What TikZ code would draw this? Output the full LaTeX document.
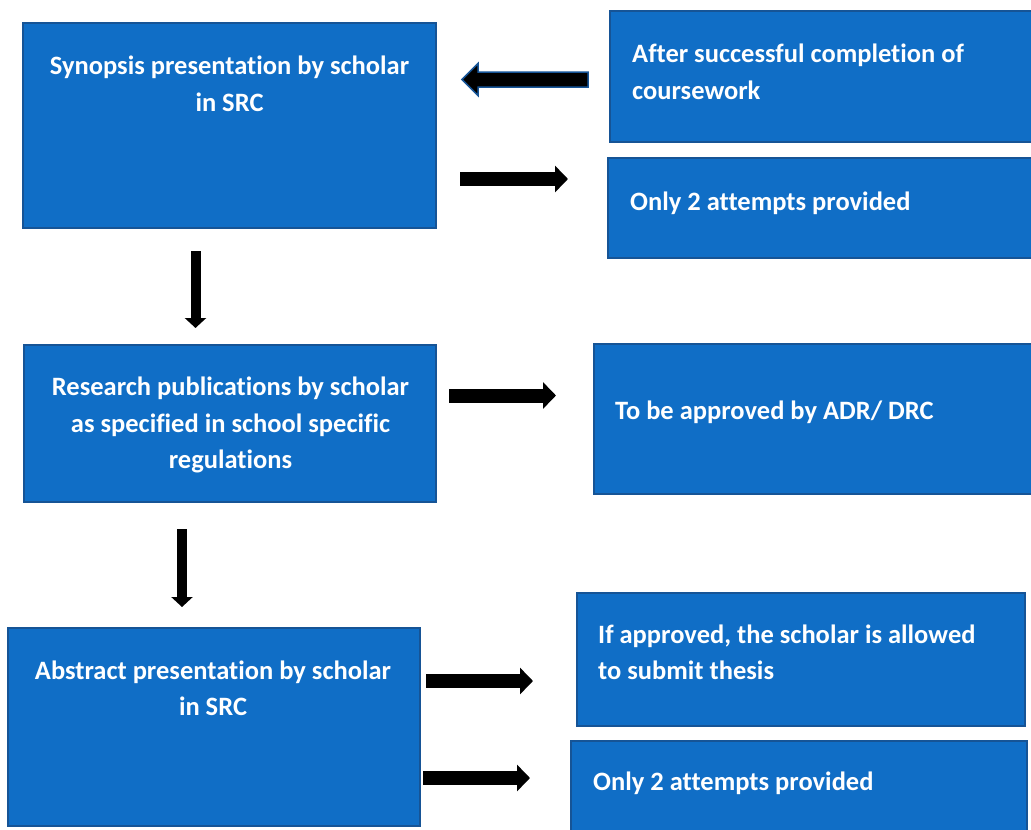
\documentclass[tikz,border=0pt]{standalone}
\usepackage{fontspec}
\setmainfont{Carlito}[Ligatures=NoCommon]
\usetikzlibrary{arrows.meta,calc}
\definecolor{boxblue}{RGB}{16,110,198}
\definecolor{boxline}{RGB}{22,84,150}
\begin{document}
\begin{tikzpicture}[x=1pt,y=-1pt,
  box/.style={draw=boxline, fill=boxblue, line width=2pt, inner sep=0pt, outer sep=0pt, anchor=north west},
  txt/.style={text=white, font=\fontsize{26.5}{36.5}\selectfont\bfseries, inner sep=0pt},
  bigarrow/.style={line width=14pt, -{Triangle[length=13pt,width=26pt]}},
  downarrow/.style={line width=10pt, -{Triangle[length=10pt,width=21pt]}}]
\useasboundingbox (0,0) rectangle (1031,830);

% boxes
\node[box, minimum width=413pt, minimum height=205pt] (A) at (23,23) {};
\node[box, minimum width=424pt, minimum height=131pt] (B) at (610,11) {};
\node[box, minimum width=426pt, minimum height=100pt] (C) at (608,158) {};
\node[box, minimum width=412pt, minimum height=157pt] (D) at (24,345) {};
\node[box, minimum width=440pt, minimum height=150pt] (E) at (594,344) {};
\node[box, minimum width=412pt, minimum height=198pt] (F) at (8,628) {};
\node[box, minimum width=448pt, minimum height=133pt] (G) at (577,593) {};
\node[box, minimum width=456pt, minimum height=95pt] (H) at (571,741) {};

% texts (anchored at the baseline of the last line)
\node[txt, align=center, anchor=base] (At) at (229.5,111) {Synopsis presentation by scholar\\in SRC};
\node[txt, align=left, anchor=base west] (Bt) at (632,99) {After successful completion of\\coursework};
\node[txt, anchor=base west] (Ct) at (630,210) {Only 2 attempts provided};
\node[txt, align=center, anchor=base] (Dt) at (230.5,468.5) {Research publications by scholar\\as specified in school specific\\regulations};
\node[txt, anchor=base west] (Et) at (615,419) {To be approved by ADR/ DRC};
\node[txt, align=center, anchor=base] (Ft) at (213,715.5) {Abstract presentation by scholar\\in SRC};
\node[txt, align=left, anchor=base west] (Gt) at (598,679.5) {If approved, the scholar is allowed\\to submit thesis};
\node[txt, anchor=base west] (Ht) at (593,790.5) {Only 2 attempts provided};

% arrow end points
\coordinate (L0) at (588,79.5);
\coordinate (L1) at (462,79.5);
\coordinate (r1s) at (460,179);
\coordinate (r1e) at (568,179);
\coordinate (r2s) at (449,395.5);
\coordinate (r2e) at (556,395.5);
\coordinate (r3s) at (426,681);
\coordinate (r3e) at (533,681);
\coordinate (r4s) at (423,778);
\coordinate (r4e) at (530,778);
\coordinate (d1s) at (195.5,251);
\coordinate (d1e) at (195.5,328);
\coordinate (d2s) at (182,529);
\coordinate (d2e) at (182,607);

% outlined left arrow
\draw[fill=black, draw=boxline, line width=1.5pt, line join=miter]
  ($(L0)+(0,-7.5)$) -- ($(L1)+(16,-7.5)$) -- ($(L1)+(16,-16)$) -- (L1)
  -- ($(L1)+(16,16)$) -- ($(L1)+(16,7.5)$) -- ($(L0)+(0,7.5)$) -- cycle;

\draw[bigarrow] (r1s) -- (r1e);
\draw[bigarrow] (r2s) -- (r2e);
\draw[bigarrow] (r3s) -- (r3e);
\draw[bigarrow] (r4s) -- (r4e);
\draw[downarrow] (d1s) -- (d1e);
\draw[downarrow] (d2s) -- (d2e);
\end{tikzpicture}
\end{document}
